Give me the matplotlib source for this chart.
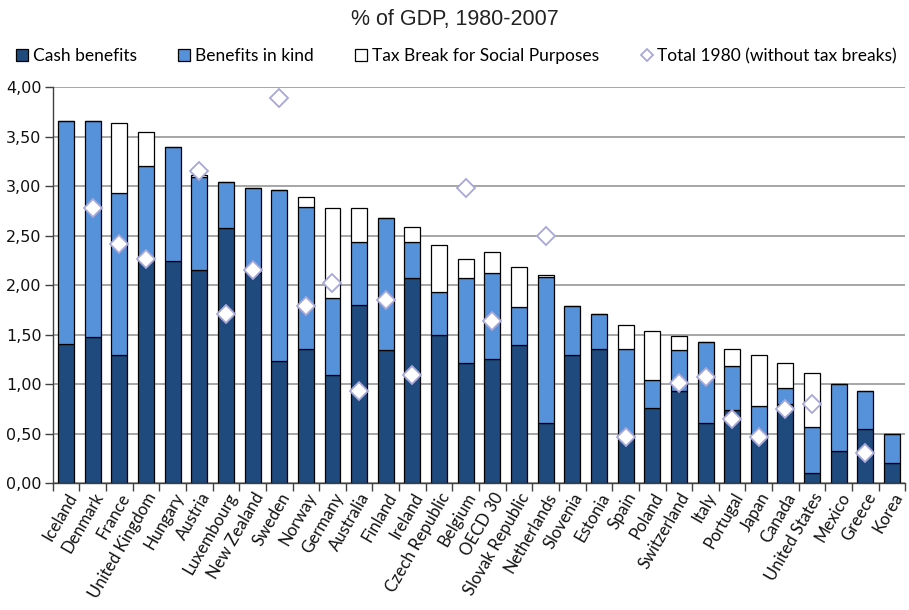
import matplotlib
matplotlib.use("Agg")
import matplotlib.pyplot as plt
from matplotlib.ticker import FuncFormatter, MultipleLocator, FixedLocator
import numpy as np

countries = ["Iceland", "Denmark", "France", "United Kingdom", "Hungary", "Austria",
             "Luxembourg", "New Zealand", "Sweden", "Norway", "Germany", "Australia",
             "Finland", "Ireland", "Czech Republic", "Belgium", "OECD 30", "Slovak Republic",
             "Netherlands", "Slovenia", "Estonia", "Spain", "Poland", "Switzerland", "Italy",
             "Portugal", "Japan", "Canada", "United States", "Mexico", "Greece", "Korea"]

# cumulative tops of each stacked segment
cash = [1.41, 1.48, 1.29, 2.26, 2.24, 2.15, 2.58, 2.12, 1.23, 1.36, 1.09, 1.80,
        1.35, 2.07, 1.50, 1.21, 1.25, 1.40, 0.61, 1.29, 1.36, 0.47, 0.76, 0.93, 0.61,
        0.74, 0.46, 0.80, 0.10, 0.32, 0.55, 0.20]
cash_plus_kind = [3.66, 3.66, 2.93, 3.20, 3.40, 3.09, 3.04, 2.98, 2.96, 2.79, 1.87, 2.44,
                  2.68, 2.44, 1.93, 2.07, 2.12, 1.78, 2.08, 1.79, 1.71, 1.36, 1.04, 1.34, 1.43,
                  1.18, 0.78, 0.96, 0.57, 1.00, 0.93, 0.50]
total_net = [3.66, 3.66, 3.64, 3.55, 3.40, 3.11, 3.04, 2.98, 2.96, 2.89, 2.78, 2.78,
             2.68, 2.59, 2.41, 2.26, 2.34, 2.18, 2.10, 1.79, 1.71, 1.60, 1.54, 1.49, 1.43,
             1.36, 1.29, 1.21, 1.11, 1.00, 0.93, 0.50]
total_1980 = [np.nan, 2.78, 2.42, 2.26, np.nan, 3.15, 1.71, 2.15, 3.89, 1.79, 2.02, 0.93,
              1.85, 1.09, np.nan, 2.98, 1.64, np.nan, 2.50, np.nan, np.nan, 0.47, np.nan, 1.01,
              1.07, 0.65, 0.47, 0.75, 0.80, np.nan, 0.30, np.nan]

cash = np.array(cash)
kind = np.array(cash_plus_kind) - cash
tax = np.array(total_net) - np.array(cash_plus_kind)

DARK = "#1f4a7e"
LIGHT = "#5692da"

fig = plt.figure(figsize=(9.09, 6.10), dpi=100)
ax = fig.add_axes([0.058, 0.208, 0.938, 0.649])

x = np.arange(len(countries))
w = 0.6
b1 = ax.bar(x, cash, w, color=DARK, edgecolor="black", linewidth=0.9, zorder=2)
b2 = ax.bar(x, kind, w, bottom=cash, color=LIGHT, edgecolor="black", linewidth=0.9, zorder=2)
b3 = ax.bar(x, tax, w, bottom=cash + kind, color="white", edgecolor="black", linewidth=0.9,
            zorder=2)
pts, = ax.plot(x, total_1980, linestyle="none", marker="D", markersize=9, markerfacecolor="white",
               markeredgecolor="#a8a8d8", markeredgewidth=1.3, zorder=3)

ax.set_xlim(-0.5, len(countries) - 0.5)
ax.set_ylim(0, 4)
ax.yaxis.set_major_locator(MultipleLocator(0.5))
ax.yaxis.set_major_formatter(FuncFormatter(lambda v, p: f"{v:.2f}".replace(".", ",")))
ax.grid(axis="y", color="#a6a6a6", linewidth=1.4, zorder=0)
ax.set_axisbelow(True)

ax.set_xticks(x)
ax.set_xticklabels(countries, rotation=60, ha="right", rotation_mode="anchor",
                   family="Lato", fontsize=12, color="#111111")
ax.xaxis.set_minor_locator(FixedLocator(np.arange(-0.5, len(countries), 1)))
ax.tick_params(axis="x", which="major", length=0, pad=5)
ax.tick_params(axis="x", which="minor", length=6, width=1, color="#404040", direction="out")
ax.tick_params(axis="y", length=6, width=1, color="#404040", labelsize=11.5, pad=2,
               labelcolor="#111111")

for side in ["top", "right"]:
    ax.spines[side].set_visible(False)
for side in ["left", "bottom"]:
    ax.spines[side].set_color("#404040")
    ax.spines[side].set_linewidth(1)

fig.text(0.5, 0.968, "% of GDP, 1980-2007", ha="center", va="center",
         family="Liberation Sans", fontsize=15.5, color="#222222")

labels = ["Cash benefits", "Benefits in kind", "Tax Break for Social Purposes",
          "Total 1980 (without tax breaks)"]
fig.legend([b1, b2, b3, pts], labels, loc="center", bbox_to_anchor=(0.502, 0.908), ncol=4,
           frameon=False, prop={"family": "Lato", "size": 12.5}, handlelength=0.7,
           handleheight=0.7, handletextpad=0.25, columnspacing=2.4, markerscale=0.7)

plt.savefig("out.png", dpi=100)
